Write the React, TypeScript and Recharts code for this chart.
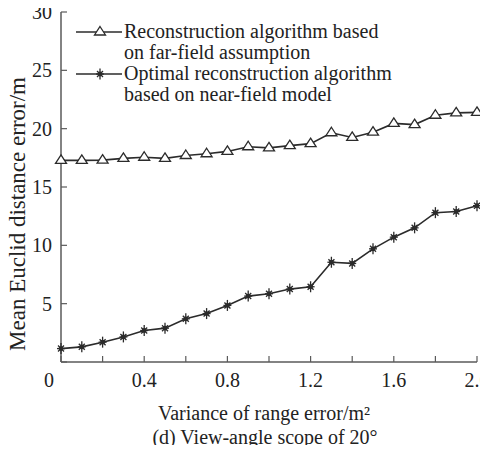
import { Label, Legend, Line, LineChart, XAxis, YAxis } from "recharts";

const varianceX = [0, 0.1, 0.2, 0.3, 0.4, 0.5, 0.6, 0.7, 0.8, 0.9, 1.0, 1.1, 1.2, 1.3, 1.4, 1.5, 1.6, 1.7, 1.8, 1.9, 2.0];
const farFieldError = [17.28, 17.28, 17.3, 17.45, 17.55, 17.45, 17.7, 17.85, 18.05, 18.45, 18.35, 18.55, 18.72, 19.65, 19.25, 19.7, 20.45, 20.35, 21.15, 21.35, 21.4];
const nearFieldError = [1.15, 1.3, 1.7, 2.15, 2.7, 2.9, 3.7, 4.15, 4.85, 5.65, 5.85, 6.25, 6.45, 8.55, 8.45, 9.7, 10.7, 11.5, 12.8, 12.9, 13.4];

const xTicks = [0, 0.2, 0.4, 0.6, 0.8, 1.0, 1.2, 1.4, 1.6, 1.8, 2.0];
const xTickLabels = ["0", "0.4", "0.8", "1.2", "1.6", "2.0"];
const yTicks = [0, 5, 10, 15, 20, 25, 30];

const farLabel = ["Reconstruction algorithm based", "on far-field assumption"];
const nearLabel = ["Optimal reconstruction algorithm", "based on near-field model"];

const data = varianceX.map((x, i) => ({ x, far: farFieldError[i], near: nearFieldError[i] }));

const INK = "#2b2b2b";
const FRAME = "#5a5a5a";
const FONT = "'Liberation Serif', 'Times New Roman', serif";

function xLabelFor(v: number) {
  const s = v === 0 ? "0" : v.toFixed(1);
  return xTickLabels.includes(s) ? s : "";
}

function BottomTick({ x, y, payload }: any) {
  const text = xLabelFor(Number(payload.value));
  if (!text) return null;
  return (
    <text x={x + (text === "0" ? -12 : 0)} y={y} dy="0.71em" textAnchor="middle" fill="#222" fontSize={20} fontFamily={FONT}>
      {text}
    </text>
  );
}

function triangle(cx: number, cy: number) {
  return `M${cx},${cy - 5.5} L${cx + 5.5},${cy + 3} L${cx - 5.5},${cy + 3} Z`;
}

function TriangleDot({ cx, cy, index }: any) {
  return <path key={`t-${index}`} d={triangle(cx, cy)} fill="#fff" stroke={INK} strokeWidth={1.3} />;
}

function StarMark({ cx, cy }: { cx: number; cy: number }) {
  return (
    <g stroke={INK} strokeWidth={1.3}>
      <line x1={cx} x2={cx} y1={cy - 5.5} y2={cy + 5.5} />
      <line x1={cx - 4} x2={cx + 4} y1={cy} y2={cy} />
      <line x1={cx - 3} x2={cx + 3} y1={cy - 3} y2={cy + 3} />
      <line x1={cx - 3} x2={cx + 3} y1={cy + 3} y2={cy - 3} />
      <circle cx={cx} cy={cy} r={1.8} fill={INK} />
    </g>
  );
}

function StarDot({ cx, cy, index }: any) {
  return <StarMark key={`s-${index}`} cx={cx} cy={cy} />;
}

function YTitle({ viewBox }: any) {
  // sits a bit below the plot's middle, as in the scan
  const x = viewBox.x + 9;
  const y = viewBox.y + viewBox.height / 2 + 27;
  return (
    <text x={x} y={y} transform={`rotate(-90 ${x} ${y})`} textAnchor="middle" dominantBaseline="central" fill="#222" fontSize={23} fontFamily={FONT}>
      Mean Euclid distance error/m
    </text>
  );
}

function LegendBox() {
  const rows = [
    { lines: farLabel, mark: (cx: number, cy: number) => <path d={triangle(cx, cy)} fill="#fff" stroke={INK} strokeWidth={1.3} /> },
    { lines: nearLabel, mark: (cx: number, cy: number) => <StarMark cx={cx} cy={cy} /> },
  ];
  return (
    <div style={{ fontFamily: FONT, fontSize: 20, lineHeight: "21px", color: "#222" }}>
      {rows.map((r, i) => (
        <div key={i} style={{ display: "flex", alignItems: "flex-start" }}>
          <svg width={48} height={21} style={{ flex: "none" }}>
            <line x1={0} x2={46} y1={11} y2={11} stroke={INK} strokeWidth={1.5} />
            {r.mark(24, 11)}
          </svg>
          <div style={{ whiteSpace: "nowrap" }}>
            {r.lines.map((l) => (
              <div key={l}>{l}</div>
            ))}
          </div>
        </div>
      ))}
    </div>
  );
}

export default function App() {
  return (
    <LineChart
      width={488}
      height={453}
      data={data}
      margin={{ top: 12, right: 11, bottom: 0, left: 8 }}
      style={{ fontFamily: FONT, margin: -8 }}
    >
      <XAxis
        dataKey="x"
        type="number"
        domain={[0, 2]}
        ticks={xTicks}
        height={91}
        axisLine={{ stroke: FRAME, strokeWidth: 1.5 }}
        tickLine={{ stroke: FRAME, strokeWidth: 1.2 }}
        tickSize={-6}
        tickMargin={17}
        tick={<BottomTick />}
        interval={0}
      >
        <Label value="Variance of range error/m²" position="insideBottom" offset={33} dx={-5} fill="#222" fontSize={20} />
        <Label value="(d) View-angle scope of 20°" position="insideBottom" offset={9} dx={-4} fill="#222" fontSize={20} />
      </XAxis>
      <XAxis
        xAxisId="top"
        orientation="top"
        dataKey="x"
        type="number"
        domain={[0, 2]}
        ticks={xTicks}
        height={0}
        axisLine={{ stroke: FRAME, strokeWidth: 1.5 }}
        tickLine={{ stroke: FRAME, strokeWidth: 1.2 }}
        tickSize={-6}
        tickFormatter={() => ""}
        interval={0}
      />
      <YAxis
        domain={[0, 30]}
        ticks={yTicks}
        width={53}
        axisLine={{ stroke: FRAME, strokeWidth: 1.5 }}
        tickLine={{ stroke: FRAME, strokeWidth: 1.2 }}
        tickSize={-6}
        tickMargin={15}
        tick={{ fill: "#222", fontSize: 20 }}
        tickFormatter={(v) => (v === 0 ? "" : String(v))}
        interval={0}
      >
        <Label content={<YTitle />} />
      </YAxis>
      <YAxis
        yAxisId="right"
        orientation="right"
        domain={[0, 30]}
        ticks={yTicks}
        width={0}
        axisLine={{ stroke: FRAME, strokeWidth: 1.5 }}
        tickLine={{ stroke: FRAME, strokeWidth: 1.2 }}
        tickSize={-6}
        tickFormatter={() => ""}
        interval={0}
      />
      <Legend
        layout="vertical"
        align="center"
        verticalAlign="middle"
        content={<LegendBox />}
        wrapperStyle={{ top: 21, left: 76, width: "auto" }}
      />
      <Line dataKey="far" stroke={INK} strokeWidth={1.6} dot={<TriangleDot />} activeDot={false} isAnimationActive={false} />
      <Line dataKey="near" stroke={INK} strokeWidth={1.6} dot={<StarDot />} activeDot={false} isAnimationActive={false} />
    </LineChart>
  );
}
